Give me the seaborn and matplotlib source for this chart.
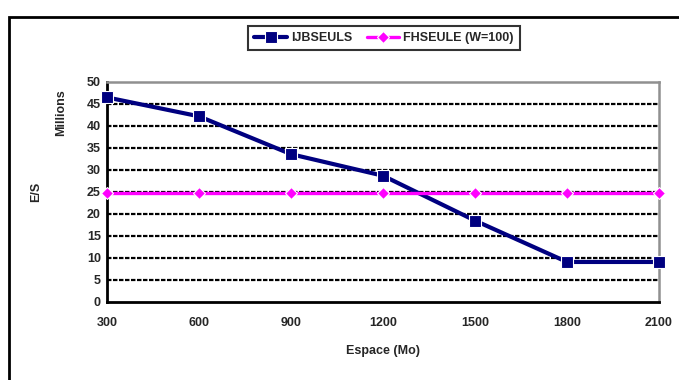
import matplotlib
matplotlib.use("Agg")
import matplotlib.pyplot as plt
import seaborn as sns
import pandas as pd
from matplotlib.patches import Rectangle

espace = [300, 600, 900, 1200, 1500, 1800, 2100]
ijbseuls = [46.5, 42.2, 33.6, 28.7, 18.5, 9.1, 9.1]
fhseule = [24.7, 24.7, 24.7, 24.7, 24.7, 24.7, 24.7]
series_names = ["IJBSEULS", "FHSEULE (W=100)"]
yticks = [0, 5, 10, 15, 20, 25, 30, 35, 40, 45, 50]

sns.set_style("white")
plt.rcParams['font.family'] = ['Liberation Sans', 'DejaVu Sans']
plt.rcParams['font.weight'] = 'bold'

df = pd.DataFrame({
    "Espace": espace * 2,
    "val": ijbseuls + fhseule,
    "serie": [series_names[0]] * len(espace) + [series_names[1]] * len(espace),
})

fig = plt.figure(figsize=(6.79, 3.80), dpi=100)
ax = fig.add_axes([107/679, 1 - 302/380, (659-107)/679, (302-82)/380])

# outer border
fig.patches.append(Rectangle((9/679, -0.05), 1.0, 1 - 17/380 + 0.05, transform=fig.transFigure,
                             fill=False, edgecolor='black', linewidth=2, clip_on=False))

sns.lineplot(data=df, x="Espace", y="val", hue="serie", style="serie",
             palette={series_names[0]: "#000080", series_names[1]: "#FF00FF"},
             markers={series_names[0]: "s", series_names[1]: "D"},
             dashes=False, ax=ax, legend=False, zorder=3)
lines = ax.get_lines()
lines[0].set_linewidth(3.0); lines[0].set_markersize(8)
lines[1].set_linewidth(2.4); lines[1].set_markersize(6.5)
for ln in lines:
    ln.set_clip_on(False)
    ln.set_markeredgewidth(0.8)

ax.set_xlim(300, 2100)
ax.set_ylim(0, 50)
ax.set_xticks(espace)
ax.set_yticks(yticks)
ax.set_xticklabels([str(v) for v in espace], fontsize=9, fontweight='bold')
ax.set_yticklabels([str(v) for v in yticks], fontsize=9, fontweight='bold')
ax.tick_params(axis='x', direction='inout', length=5, width=1.4, pad=8, color='black')
ax.tick_params(axis='y', direction='inout', length=5, width=1.4, pad=2, color='black')

for y in yticks[1:-1]:
    ax.axhline(y, color='black', linewidth=1.6, linestyle=(0, (2, 0.7)), zorder=1)

ax.spines['left'].set_color('black'); ax.spines['left'].set_linewidth(2)
ax.spines['bottom'].set_color('black'); ax.spines['bottom'].set_linewidth(2)
ax.spines['top'].set_color('#909090'); ax.spines['top'].set_linewidth(1.8)
ax.spines['right'].set_color('#909090'); ax.spines['right'].set_linewidth(1.8)

ax.set_xlabel("Espace (Mo)", fontsize=9, fontweight='bold', labelpad=12)
ax.set_ylabel("")
fig.text(36/679, 1 - 192/380, "E/S", rotation=90, fontsize=9, fontweight='bold', ha='center', va='center')
fig.text(61/679, 1 - 113/380, "Millions", rotation=90, fontsize=9, fontweight='bold', ha='center', va='center')

leg = fig.legend(handles=lines, labels=series_names, loc='center',
                 bbox_to_anchor=(384/679, 1 - 38/380), ncol=2, frameon=True,
                 fontsize=9, fancybox=False, handlelength=2.6, columnspacing=1.2,
                 handletextpad=0.3, borderpad=0.5)
leg.get_frame().set_edgecolor('black')
leg.get_frame().set_linewidth(1.5)
for t in leg.get_texts():
    t.set_fontweight('bold')

fig.savefig("out.png", dpi=100)
